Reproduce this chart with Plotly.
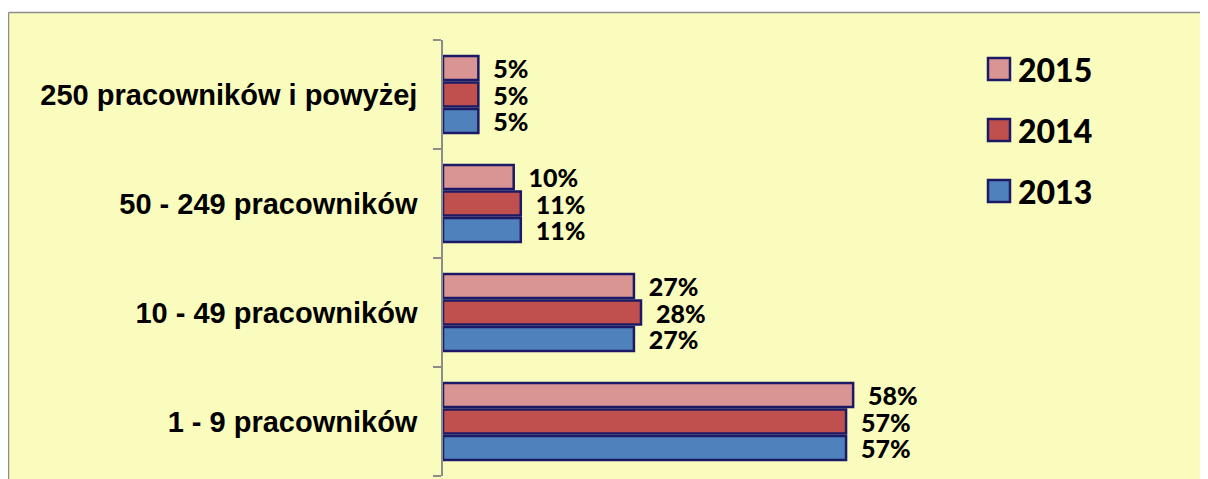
"""Horizontal grouped bars: enterprises by size class, 2013-2015."""

import plotly.graph_objects as go

CATEGORIES = [
    "1 - 9 pracowników",
    "10 - 49 pracowników",
    "50 - 249 pracowników",
    "250 pracowników i powyżej",
]
YEARS = ["2013", "2014", "2015"]
VALUES = {
    "2013": [57, 27, 11, 5],
    "2014": [57, 28, 11, 5],
    "2015": [58, 27, 10, 5],
}
COLORS = {"2013": "#4F81BD", "2014": "#C0504D", "2015": "#D99594"}

BG_PANEL = "#FAFCBE"
OUTLINE = "#1C1A66"
AXIS_GRAY = "#8C8C8C"
LABEL_FONT = "Liberation Sans, Arial, sans-serif"
NUM_FONT = "Lato, Open Sans, sans-serif"

# figure sits inside the page's 8px body margin
W, H = 1200, 471
OFF = 8
L, T = 435, 32
PW, PH = 495, 436


def px_x(page_x):
    return (page_x - OFF - L) / PW


def px_y(page_y):
    return (T + PH - (page_y - OFF)) / PH


fig = go.Figure()
for year in YEARS:
    fig.add_trace(
        go.Bar(
            y=CATEGORIES,
            x=VALUES[year],
            name=year,
            orientation="h",
            marker=dict(color=COLORS[year], line=dict(color=OUTLINE, width=2.5)),
            text=[f"\u00a0\u00a0{v}%" for v in VALUES[year]],
            textposition="outside",
            textfont=dict(family=NUM_FONT, size=25, color="black", weight=900),
            constraintext="none",
            cliponaxis=False,
            showlegend=False,
        )
    )

# yellow panel, gray frame on the visible left/top edges
x_left, y_top = px_x(8.5), px_y(12.5)
shapes = [
    dict(
        type="rect", xref="paper", yref="paper",
        x0=x_left, x1=px_x(1240), y0=px_y(500), y1=y_top,
        fillcolor=BG_PANEL, line=dict(width=0), layer="below",
    ),
    dict(
        type="line", xref="paper", yref="paper",
        x0=x_left, x1=px_x(1240), y0=y_top, y1=y_top,
        line=dict(color=AXIS_GRAY, width=1.5), layer="below",
    ),
    dict(
        type="line", xref="paper", yref="paper",
        x0=x_left, x1=x_left, y0=px_y(500), y1=y_top,
        line=dict(color=AXIS_GRAY, width=1.5), layer="below",
    ),
]
annotations = []

# legend drawn by hand so the swatches are as large as in the original
legend_rows = {"2015": 69, "2014": 130, "2013": 191}
for year, cy in legend_rows.items():
    shapes.append(
        dict(
            type="rect", xref="paper", yref="paper",
            x0=px_x(988), x1=px_x(1010), y0=px_y(cy + 11), y1=px_y(cy - 11),
            fillcolor=COLORS[year], line=dict(color=OUTLINE, width=2.5),
        )
    )
    annotations.append(
        dict(
            xref="paper", yref="paper", x=px_x(1016), y=px_y(cy),
            xanchor="left", yanchor="middle", showarrow=False, text=year,
            font=dict(family=NUM_FONT, size=32, color="black", weight=900),
        )
    )

fig.update_layout(
    width=W,
    height=H,
    paper_bgcolor="white",
    plot_bgcolor="rgba(0,0,0,0)",
    margin=dict(l=L, r=W - L - PW, t=T, b=H - T - PH, pad=0),
    barmode="group",
    bargap=0.27,
    bargroupgap=0.1,
    showlegend=False,
    shapes=shapes,
    annotations=annotations,
    xaxis=dict(range=[0, 70], visible=False, fixedrange=True),
    yaxis=dict(
        type="category",
        categoryorder="array",
        categoryarray=CATEGORIES,
        showline=True,
        linecolor=AXIS_GRAY,
        linewidth=1.5,
        ticks="outside",
        tickson="boundaries",
        ticklen=8,
        tickcolor=AXIS_GRAY,
        tickwidth=1.5,
        showgrid=False,
        ticklabelstandoff=18,
        tickfont=dict(family=LABEL_FONT, size=29, color="black", weight="bold"),
        fixedrange=True,
    ),
)

fig.write_html("out.html")
